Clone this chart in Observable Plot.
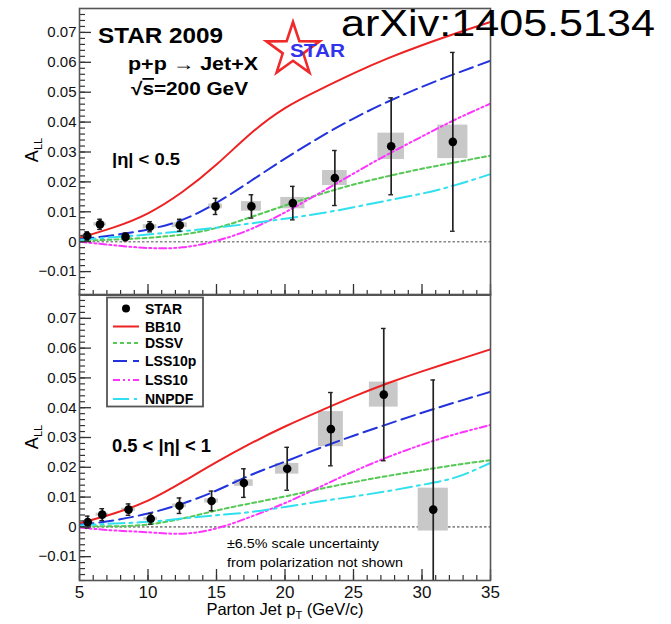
<!DOCTYPE html>
<html><head><meta charset="utf-8">
<script src="https://cdn.jsdelivr.net/npm/d3@7"></script>
<script src="https://cdn.jsdelivr.net/npm/@observablehq/plot@0.6"></script>
<style>
body{margin:0;background:#fff;}
#chart{position:relative;width:671px;height:624px;overflow:hidden;font-family:"Liberation Sans",Arial,sans-serif;}
#chart svg{position:absolute;left:0;}
</style></head><body><div id="chart"></div>
<script>
// ---------------- data ----------------
const modelNames = ["BB10", "DSSV", "LSS10p", "LSS10", "NNPDF"];
const modelPt = [5, 7.5, 10, 12.5, 15, 17.5, 20, 22.5, 25, 27.5, 30, 32.5, 35];

// |eta| < 0.5 panel
const topBB10   = [0.0013, 0.0048, 0.0095, 0.0166, 0.0258, 0.0362, 0.0447, 0.0508, 0.0563, 0.0613, 0.0657, 0.0697, 0.0735];
const topDSSV   = [0.0003, 0.0007, 0.0013, 0.0024, 0.0046, 0.0082, 0.0121, 0.0158, 0.0191, 0.0219, 0.0244, 0.0266, 0.0288];
const topLSS10p = [0.0008, 0.0022, 0.0041, 0.0073, 0.0130, 0.0203, 0.0278, 0.0348, 0.0412, 0.0468, 0.0518, 0.0563, 0.0605];
const topLSS10  = [0.0000, -0.0012, -0.0021, -0.0019, 0.0003, 0.0042, 0.0098, 0.0162, 0.0228, 0.0292, 0.0352, 0.0410, 0.0462];
const topNNPDF  = [0.0006, 0.0015, 0.0024, 0.0035, 0.0047, 0.0061, 0.0077, 0.0094, 0.0115, 0.0138, 0.0161, 0.0190, 0.0226];

const topPt   = [5.56, 6.5, 8.36, 10.15, 12.32, 14.93, 17.55, 20.57, 23.64, 27.75, 32.25];
const topAll  = [0.0019, 0.0058, 0.0016, 0.0050, 0.0055, 0.0118, 0.0118, 0.0129, 0.0213, 0.0319, 0.0334];
const topStat = [0.0014, 0.0017, 0.0013, 0.0017, 0.0020, 0.0027, 0.0039, 0.0056, 0.0092, 0.0162, 0.0299];
const topSysY = [0.0006, 0.0006, 0.0006, 0.0007, 0.0008, 0.0008, 0.0016, 0.0019, 0.0025, 0.0044, 0.0056];
const topSysX = [0.40, 0.45, 0.50, 0.50, 0.55, 0.50, 0.73, 0.88, 0.90, 0.97, 1.10];

// 0.5 < |eta| < 1 panel
const botBB10   = [0.0012, 0.0045, 0.0088, 0.0150, 0.0217, 0.0280, 0.0337, 0.0388, 0.0437, 0.0482, 0.0522, 0.0559, 0.0596];
const botDSSV   = [0.0002, 0.0002, 0.0008, 0.0028, 0.0055, 0.0079, 0.0102, 0.0127, 0.0150, 0.0171, 0.0190, 0.0208, 0.0224];
const botLSS10p = [0.0007, 0.0022, 0.0045, 0.0078, 0.0122, 0.0174, 0.0219, 0.0264, 0.0306, 0.0345, 0.0383, 0.0419, 0.0453];
const botLSS10  = [-0.0002, -0.0012, -0.0018, -0.0023, -0.0005, 0.0034, 0.0080, 0.0133, 0.0186, 0.0234, 0.0276, 0.0312, 0.0342];
const botNNPDF  = [0.0005, 0.0011, 0.0017, 0.0028, 0.0039, 0.0050, 0.0067, 0.0085, 0.0102, 0.0120, 0.0141, 0.0167, 0.0215];

const botPt   = [5.60, 6.66, 8.58, 10.20, 12.30, 14.64, 17.00, 20.16, 23.35, 27.21, 30.82];
const botAll  = [0.0016, 0.0041, 0.0058, 0.0027, 0.0071, 0.0087, 0.0147, 0.0195, 0.0328, 0.0444, 0.0058];
const botStat = [0.0020, 0.0020, 0.0019, 0.0018, 0.0026, 0.0033, 0.0048, 0.0072, 0.0123, 0.0222, 0.0435];
const botSysY = [0.0005, 0.0005, 0.0005, 0.0005, 0.0006, 0.0007, 0.0011, 0.0018, 0.0059, 0.0042, 0.0072];
const botSysX = [0.40, 0.45, 0.50, 0.50, 0.50, 0.50, 0.68, 0.85, 0.91, 1.05, 1.10];

// axes
const yTicks = [-0.01, 0, 0.01, 0.02, 0.03, 0.04, 0.05, 0.06, 0.07];
const yMinor = d3.range(-9, 39).map(i => +(i * 0.002).toFixed(3));
const xTicks = [5, 10, 15, 20, 25, 30, 35];
const xMinor = d3.range(5, 36);
const yDomain = [-0.018, 0.078];
const xDomain = [5, 35];

// styles
const modelColors = ["#ee2222", "#55c855", "#2233dd", "#ff33ff", "#30e0ee"];
const modelDash = [null, "4,3", "14,6", "7,3,2,3,2,3", "16,5,3,5"];

// ---------------- drawing ----------------
const fmt = d => d === 0 ? "0" : d3.format(".2f")(d);

function panel(pts, vals, stat, sysX, sysY, models, o) {
  const pdata = pts.map((x, i) => ({x, y: vals[i], e: stat[i], sx: sysX[i], sy: sysY[i]}));
  const marks = [
    Plot.ruleY([0], {stroke: "#888", strokeDasharray: "2.5,2", strokeWidth: 1.6}),
    Plot.rect(pdata, {x1: d => d.x - d.sx, x2: d => d.x + d.sx, y1: d => d.y - d.sy, y2: d => d.y + d.sy, fill: "#c8c8c8", clip: true}),
    ...models.map((arr, k) => Plot.line(arr.map((y, i) => ({x: modelPt[i], y})), {
      x: "x", y: "y", stroke: modelColors[k], strokeWidth: 2, strokeDasharray: modelDash[k], curve: "natural", clip: true
    })),
    Plot.ruleX(pdata, {x: "x", y1: d => d.y - d.e, y2: d => d.y + d.e, stroke: "#222", strokeWidth: 1.7, clip: true}),
    Plot.ruleY(pdata, {y: d => d.y + d.e, x1: d => d.x - 0.17, x2: d => d.x + 0.17, stroke: "#222", strokeWidth: 1.4, clip: true}),
    Plot.ruleY(pdata, {y: d => d.y - d.e, x1: d => d.x - 0.17, x2: d => d.x + 0.17, stroke: "#222", strokeWidth: 1.4, clip: true}),
    Plot.dot(pdata, {x: "x", y: "y", r: 4.3, fill: "#000"}),
    Plot.axisY(yTicks, {tickSize: 0, tickPadding: 3, tickFormat: fmt, fontSize: 15, label: null, fill: "#111"}),
    Plot.axisY(yTicks, {tickSize: -12, fill: "none", label: null, stroke: "#333", strokeWidth: 1.3}),
    Plot.axisY(yMinor, {tickSize: -6, fill: "none", label: null, stroke: "#333", strokeWidth: 1.2}),
    Plot.axisX(xTicks, {tickSize: -11, fill: "none", label: null, stroke: "#333", strokeWidth: 1.3}),
    Plot.axisX(xMinor, {tickSize: -5, fill: "none", label: null, stroke: "#333", strokeWidth: 1.2}),
    Plot.frame({stroke: "#555", strokeWidth: 1.6})
  ];
  if (o.xLabels) marks.push(Plot.axisX(xTicks, {tickSize: 0, tickPadding: 5, fontSize: 17, label: null, fill: "#111"}));
  return Plot.plot({
    width: 500, height: o.height,
    marginLeft: 79, marginRight: 10, marginTop: o.mt, marginBottom: o.mb,
    x: {domain: xDomain, label: null},
    y: {domain: yDomain, label: null},
    style: {background: "transparent", fontFamily: "'Liberation Sans', Arial, sans-serif", color: "#111"},
    marks
  });
}

const chart = document.getElementById("chart");
const p1 = panel(topPt, topAll, topStat, topSysX, topSysY, [topBB10, topDSSV, topLSS10p, topLSS10, topNNPDF], {height: 296, mt: 8, mb: 1});
p1.style.top = "0px";
chart.appendChild(p1);
const p2 = panel(botPt, botAll, botStat, botSysX, botSysY, [botBB10, botDSSV, botLSS10p, botLSS10, botNNPDF], {height: 344, mt: 14, mb: 44, xLabels: true});
p2.style.top = "280px";
chart.appendChild(p2);

// ---------------- annotations overlay ----------------
const ov = d3.select(chart).append("svg").attr("width", 671).attr("height", 624).style("top", "0px")
  .style("font-family", "'Liberation Sans', Arial, sans-serif");

function txt(x, y, s, size, weight, len) {
  const t = ov.append("text").attr("x", x).attr("y", y).attr("font-size", size).attr("font-weight", weight || "normal").attr("fill", "#000").text(s);
  if (len) t.attr("textLength", len).attr("lengthAdjust", "spacingAndGlyphs");
  return t;
}

txt(98, 43, "STAR 2009", 22.5, "bold", 125);
txt(128, 70, "p+p → Jet+X", 18, "bold", 130);
{
  const t = ov.append("text").attr("x", 131).attr("y", 95).attr("font-size", 18).attr("font-weight", "bold")
    .attr("textLength", 117).attr("lengthAdjust", "spacingAndGlyphs");
  t.append("tspan").text("√");
  t.append("tspan").attr("text-decoration", "overline").text("s");
  t.append("tspan").text("=200 GeV");
}
txt(112, 165, "|η| < 0.5", 17, "bold", 68);
txt(112, 452, "0.5 < |η| < 1", 17.5, "bold", 99);
txt(227, 548, "±6.5% scale uncertainty", 13.5, "normal", 152);
txt(227, 567, "from polarization not shown", 13.5, "normal", 176);

// STAR logo
{
  const cx = 293, cy = 50, R = 28, r = 10.8;
  const pts = d3.range(10).map(i => {
    const a = -Math.PI / 2 + i * Math.PI / 5, rr = i % 2 ? r : R;
    return [cx + rr * Math.cos(a), cy + rr * Math.sin(a)];
  });
  ov.append("polygon").attr("points", pts.map(p => p.join(",")).join(" "))
    .attr("fill", "none").attr("stroke", "#ee2a2a").attr("stroke-width", 2.6).attr("stroke-linejoin", "miter");
  ov.append("text").attr("x", 290).attr("y", 57).attr("font-size", 17.5).attr("font-weight", "bold")
    .attr("fill", "#3333ee").attr("textLength", 55).attr("lengthAdjust", "spacingAndGlyphs").text("STAR");
}

// arXiv label
ov.append("text").attr("x", 341).attr("y", 36).attr("font-size", 37).attr("font-family", "'Liberation Sans', Arial, sans-serif")
  .attr("fill", "#000").attr("textLength", 314).attr("lengthAdjust", "spacingAndGlyphs").text("arXiv:1405.5134");

// y axis titles
function yTitle(cy) {
  const t = ov.append("text").attr("transform", `translate(38,${cy}) rotate(-90)`).attr("text-anchor", "middle")
    .attr("font-size", 18).attr("fill", "#000");
  t.append("tspan").text("A");
  t.append("tspan").attr("font-size", 11).attr("dy", 4).text("LL");
}
yTitle(150);
yTitle(437);

// x axis title
{
  const t = ov.append("text").attr("x", 285).attr("y", 615).attr("text-anchor", "middle").attr("font-size", 16.5).attr("fill", "#000");
  t.append("tspan").text("Parton Jet p");
  t.append("tspan").attr("font-size", 11).attr("dy", 4).text("T");
  t.append("tspan").attr("dy", -4).text(" (GeV/c)");
}

// legend
{
  const g = ov.append("g");
  g.append("rect").attr("x", 107).attr("y", 297.5).attr("width", 96).attr("height", 109)
    .attr("fill", "#fff").attr("stroke", "#555").attr("stroke-width", 1.8);
  const entries = ["STAR", ...modelNames];
  const ys = [308.5, 326.5, 343, 361, 380, 399];
  entries.forEach((name, i) => {
    const y = ys[i];
    if (i === 0) {
      g.append("circle").attr("cx", 126).attr("cy", y).attr("r", 4).attr("fill", "#000");
    } else {
      g.append("line").attr("x1", 113).attr("x2", 139).attr("y1", y).attr("y2", y)
        .attr("stroke", modelColors[i - 1]).attr("stroke-width", 2)
        .attr("stroke-dasharray", modelDash[i - 1]);
    }
    g.append("text").attr("x", 145).attr("y", y + 5).attr("font-size", 14).attr("font-weight", "bold")
      .attr("fill", "#000").text(name);
  });
}
</script></body></html>
